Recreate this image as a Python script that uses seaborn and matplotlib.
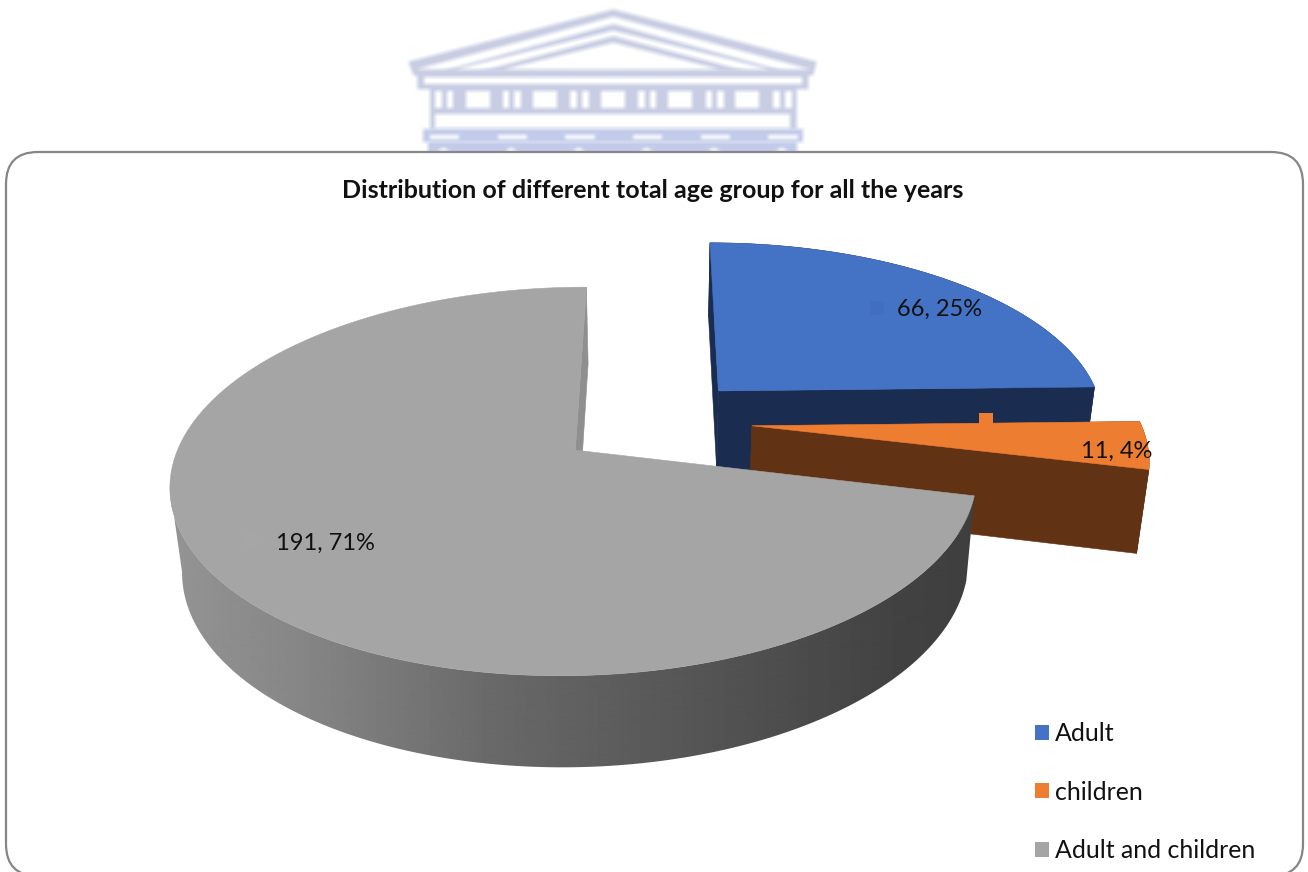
import numpy as np
import matplotlib
matplotlib.use("Agg")
import matplotlib.pyplot as plt
from matplotlib.colors import to_rgb
from matplotlib.patches import FancyBboxPatch, Patch, Polygon, Rectangle
import seaborn as sns

# Chart data
categories = ["Adult", "children", "Adult and children"]
counts = [66, 11, 191]
top_colors = ["#4472C4", "#ED7D31", "#A5A5A5"]
wall_colors = ["#1A2D50", "#623214", "#8F8F8F"]
title = "Distribution of different total age group for all the years"

sns.set_theme(style="white")
FONT = ["Lato", "DejaVu Sans"]
plt.rcParams["font.family"] = FONT
palette = sns.color_palette(top_colors)

W, H = 1308, 872
fig = plt.figure(figsize=(W / 100, H / 100), dpi=100)
ax = fig.add_axes([0, 0, 1, 1])
ax.set_xlim(0, W)
ax.set_ylim(H, 0)
ax.axis("off")

# Perspective camera for the tilted pie
X0, Y0 = 655.0, 421.0
RX, RY = 388.0, 180.0
PERSP = 0.157
EXPLODE = [0.24, 0.25, 0.255]
DEPTH = 82.0
SHRINK = 0.975


def project(px, py, bottom=False):
    s = 1.0 / (1.0 + PERSP * np.asarray(py))
    sx = X0 + RX * np.asarray(px) * s
    sy = Y0 - RY * np.asarray(py) * s
    if bottom:
        sx = X0 + (sx - X0) * SHRINK
        sy = sy + DEPTH * s ** 0.55
    return sx, sy


def soft_edges(color, radius=2):
    # Blurs only the alpha channel so edges fade without a dark halo
    rgb = to_rgb(color)

    def _filter(img, dpi):
        pad = radius * 2
        alpha = np.pad(img[..., 3].astype(float), pad)
        kernel = np.ones(2 * radius + 1) / (2 * radius + 1)
        for axis in (0, 1):
            alpha = np.apply_along_axis(lambda v: np.convolve(v, kernel, mode="same"), axis, alpha)
        out = np.zeros(alpha.shape + (4,))
        out[..., :3] = rgb
        out[..., 3] = alpha
        return out, -pad, -pad
    return _filter


# Crest above the chart frame, traced on a 3x grid
CREST_DARK = "#C8CDE3"
CREST_BASE = "#C2CBE9"


def crest_xy(points):
    return [(380 + x / 3, y / 3) for x, y in points]


def crest_poly(points, color):
    patch = Polygon(crest_xy(points), closed=True, fc=color, ec="none", zorder=1)
    patch.set_agg_filter(soft_edges(color))
    ax.add_patch(patch)


def crest_box(x0, y0, x1, y1, color):
    crest_poly([(x0, y0), (x1, y0), (x1, y1), (x0, y1)], color)


crest_poly([(85, 185), (700, 28), (1310, 185), (1300, 225), (1285, 228), (1285, 268),
            (1250, 268), (1250, 388), (150, 388), (150, 268),
            (112, 268), (112, 228), (100, 225)], CREST_DARK)
crest_box(128, 388, 1268, 425, CREST_BASE)
crest_box(145, 425, 1250, 460, CREST_BASE)
crest_poly([(108, 208), (700, 50), (1292, 208)], "white")
crest_poly([(185, 214), (700, 72), (1215, 214)], CREST_DARK)
crest_poly([(225, 208), (700, 92), (1170, 208)], "white")
crest_poly([(300, 214), (700, 108), (1100, 214)], CREST_DARK)
crest_poly([(370, 208), (700, 128), (1020, 208)], "white")
crest_box(132, 230, 1265, 252, "white")
crest_box(165, 342, 1230, 385, "white")
for i in range(6):
    left = 165 + i * 203
    crest_box(left, 272, left + 20, 325, "white")
    crest_box(left + 35, 272, left + 55, 325, "white")
    crest_box(150 + i * 203, 405, 238 + i * 203, 418, "white")
    crest_poly([(170 + i * 203, 455), (190 + i * 203, 442), (212 + i * 203, 455)], "white")
    if i < 5:
        crest_box(258 + i * 202, 272, 330 + i * 202, 325, "white")

# Rounded chart frame
ax.add_patch(FancyBboxPatch((6, 152), 1297, 724, boxstyle="round,pad=0,rounding_size=32",
                            fc="white", ec="#868686", lw=1.6, zorder=2))

values = np.array(counts, dtype=float)
fractions = values / values.sum()
edges = np.concatenate([[0.0], np.cumsum(fractions)]) * 2 * np.pi
mids = (edges[:-1] + edges[1:]) / 2

# Shading across the grey slice's curved wall, left to right
SIDE_STOPS_X = [170, 300, 500, 700, 900, 985]
SIDE_STOPS_G = [0x94, 0x86, 0x68, 0x55, 0x42, 0x3E]


def arc_points(i):
    a = np.linspace(edges[i], edges[i + 1], 240)
    ox, oy = EXPLODE[i] * np.sin(mids[i]), EXPLODE[i] * np.cos(mids[i])
    return ox, oy, ox + np.sin(a), oy + np.cos(a)


def add_face(xs, ys, color, z):
    ax.add_patch(Polygon(np.column_stack([xs, ys]), closed=True, fc=color, ec=color, lw=0.4, zorder=z))


for i in range(len(values)):
    z = 3 + i * 2
    ox, oy, arc_x, arc_y = arc_points(i)
    tx, ty = project(arc_x, arc_y)
    bx, by = project(arc_x, arc_y, bottom=True)
    cx, cy = project(ox, oy)
    cbx, cby = project(ox, oy, bottom=True)
    wall = wall_colors[i]

    if i == 2:
        # Only the front of the curved wall shows; it ends at the slice's left extreme
        end = int(np.argmin(bx)) + 1
        wall_xs = np.r_[tx[:end], bx[:end][::-1]]
        wall_ys = np.r_[ty[:end], by[:end][::-1]]
        grid = np.arange(165, 990)
        shade = np.interp(grid, SIDE_STOPS_X, SIDE_STOPS_G)[None, :] / 255
        img = ax.imshow(shade, cmap="gray", vmin=0, vmax=1, aspect="auto",
                        extent=(165, 990, 800, 440), zorder=z, interpolation="bilinear")
        img.set_clip_path(Polygon(np.column_stack([wall_xs, wall_ys]), closed=True, transform=ax.transData))
        cut_faces = (-1,)
    else:
        add_face(np.r_[tx, bx[::-1]], np.r_[ty, by[::-1]], wall, z)
        cut_faces = (0, -1)

    # Straight cut faces running from the slice edge to the apex
    for k in cut_faces:
        add_face([tx[k], cx, cbx, bx[k]], [ty[k], cy, cby, by[k]], wall, z)

    # Top surface
    add_face(np.r_[cx, tx], np.r_[cy, ty], palette[i], z + 1)

ax.set_xlim(0, W)
ax.set_ylim(H, 0)

# Data labels with their small keys
shares = np.round(fractions * 100).astype(int)
label_xy = [(897, 309), (1081, 451), (276, 543)]
key_boxes = [(870, 301, 14, 14, "#416EC0"), (979, 413, 14, 12, palette[1]), (243, 534, 14, 14, "#A6A6A6")]
for n, s, (lx, ly), key in zip(counts, shares, label_xy, key_boxes):
    ax.add_patch(Rectangle(key[:2], key[2], key[3], fc=key[4], ec="none", zorder=9))
    ax.text(lx, ly, f"{n}, {s}%", fontsize=17, color="#111111", ha="left", va="center", zorder=10)

ax.text(653, 190, title, fontsize=18, fontweight="bold", color="#111111",
        ha="center", va="center", zorder=10)

handles = [Patch(fc=c, ec="none", label=l) for c, l in zip(palette, categories)]
ax.legend(handles=handles, loc="lower left", bbox_to_anchor=(1035 / W, 1 - 862 / H),
          bbox_transform=fig.transFigure, frameon=False, fontsize=17.9, borderpad=0, borderaxespad=0,
          labelspacing=1.42, handlelength=0.56, handleheight=0.56, handletextpad=0.26,
          labelcolor="#111111")

fig.savefig("out.png", dpi=100, facecolor="white")
